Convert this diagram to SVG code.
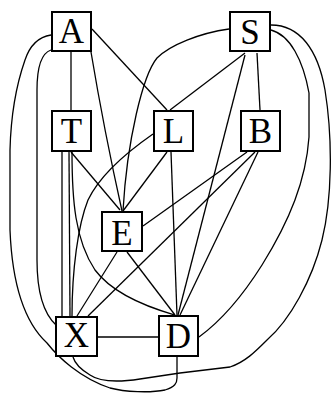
<svg xmlns="http://www.w3.org/2000/svg" width="331" height="393" viewBox="0 0 331 393">
<style>
.e{fill:none;stroke:#000;stroke-width:1.3}
.n rect{fill:#fff;stroke:#000;stroke-width:2}
.n text{font-family:"Liberation Serif","Times New Roman",serif;font-size:35px;text-anchor:middle;fill:#000}
</style>
<rect width="331" height="393" fill="#fff"/>
<g id="edges">
<path class="e" d="M71,52 L71,110"/>
<path class="e" d="M92,29 L167,110"/>
<path class="e" d="M91,52 Q104,130 122,211"/>
<path class="e" d="M51,50 C42,53 37,65 37,90 L37,260 C37,290 42,312 56,325"/>
<path class="e" d="M51,35 C38,37 30,45 25,60 C18,80 11,110 10,150 L10,230 C12,280 22,320 47,343 C58,357 80,378 110,388 C125,392 150,393 165,390 C175,387 177,383 177,378 L177,357"/>
<path class="e" d="M245,53 L170,110"/>
<path class="e" d="M257,53 L260,110"/>
<path class="e" d="M229,29 C200,33 170,45 157,58 C143,75 127,140 123,211"/>
<path class="e" d="M245,55 L178,315"/>
<path class="e" d="M271,30 C290,35 303,60 309,93 L309,137 C306,180 290,220 262,265 C245,292 225,318 199,337"/>
<path class="e" d="M271,25 C300,25 318,50 325,90 C333,140 332,200 322,240 C312,280 290,320 267,340 C255,352 245,362 230,367 L180,373 L140,379 C120,382 100,382 90,375 C80,369 75,364 73,357"/>
<path class="e" d="M71,152 L120,210"/>
<path class="e" d="M62,152 L62,316"/>
<path class="e" d="M69,152 L70,316"/>
<path class="e" d="M72,152 C72,200 75,240 95,270 C110,290 140,305 175,315"/>
<path class="e" d="M153,134 C130,150 100,175 88,200 C78,225 72,270 72,316"/>
<path class="e" d="M167,152 L123,211"/>
<path class="e" d="M171,152 L177,315"/>
<path class="e" d="M247,152 L143,226"/>
<path class="e" d="M255,152 L88,316"/>
<path class="e" d="M258,152 L180,315"/>
<path class="e" d="M127,252 L175,315"/>
<path class="e" d="M117,252 L77,316"/>
<path class="e" d="M98,337 L158,337"/>
</g>
<g id="A" class="n"><rect x="52" y="12" width="39" height="39"/><text x="71.5" y="43">A</text></g>
<g id="S" class="n"><rect x="230" y="12" width="40" height="39"/><text x="250" y="44">S</text></g>
<g id="T" class="n"><rect x="52" y="111" width="39" height="40"/><text x="71.5" y="143">T</text></g>
<g id="L" class="n"><rect x="154" y="111" width="39" height="40"/><text x="173.5" y="143">L</text></g>
<g id="B" class="n"><rect x="241" y="111" width="39" height="40"/><text x="260.5" y="143">B</text></g>
<g id="E" class="n"><rect x="102" y="212" width="40" height="39"/><text x="122" y="245">E</text></g>
<g id="X" class="n"><rect x="56" y="317" width="41" height="39"/><text x="76.5" y="347">X</text></g>
<g id="D" class="n"><rect x="159" y="316" width="39" height="40"/><text x="178.5" y="348">D</text></g>
</svg>
